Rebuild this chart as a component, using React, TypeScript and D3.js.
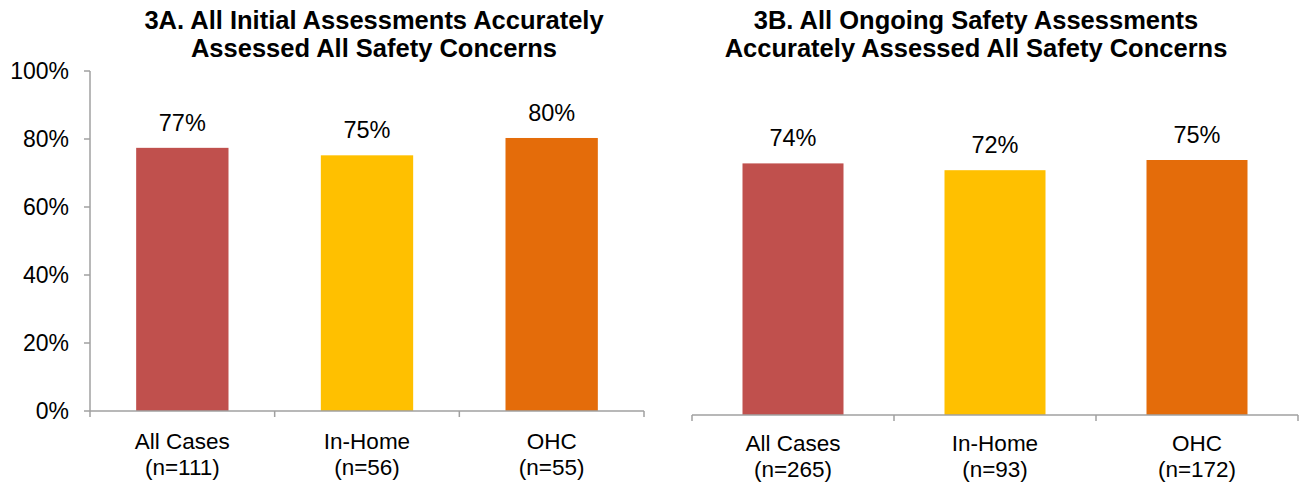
import React from "react";
import * as d3 from "d3";

const categories = ["All Cases", "In-Home", "OHC"];
const countsA = [111, 56, 55];
const valuesA = [0.774, 0.752, 0.803];
const countsB = [265, 93, 172];
const valuesB = [0.74, 0.72, 0.75];
const yTicks = [0, 0.2, 0.4, 0.6, 0.8, 1];
const barColors = ["#C0504D", "#FFC000", "#E46C0A"];
const titleA = ["3A. All Initial Assessments Accurately", "Assessed All Safety Concerns"];
const titleB = ["3B. All Ongoing Safety Assessments", "Accurately Assessed All Safety Concerns"];

const FONT = "'Liberation Sans', Arial, sans-serif";
const AXIS = "#A0A0A0";

type PanelProps = {
  x0: number; x1: number; yBase: number; yTop: number;
  values: number[]; counts: number[]; title: string[]; titleX: number;
  showY: boolean; catY: number;
};

function Panel({ x0, x1, yBase, yTop, values, counts, title, titleX, showY, catY }: PanelProps) {
  const x = d3.scaleBand<string>().domain(categories).range([x0, x1]).paddingInner(0.5).paddingOuter(0.25);
  const y = d3.scaleLinear().domain([0, 1]).range([yBase, yTop]);
  const step = x.step();
  const bounds = d3.range(categories.length + 1).map((i) => x0 + i * step);
  const fmt = d3.format(".0%");
  return (
    <g>
      {title.map((t, i) => (
        <text key={i} x={titleX} y={29 + i * 28} textAnchor="middle" fontFamily={FONT}
          fontWeight="bold" fontSize={25.5} fill="#000">{t}</text>
      ))}
      {values.map((v, i) => (
        <rect key={i} x={x(categories[i])} y={y(v)} width={x.bandwidth()} height={yBase - y(v)} fill={barColors[i]} />
      ))}
      {values.map((v, i) => (
        <text key={"l" + i} x={(x(categories[i]) as number) + x.bandwidth() / 2} y={y(v) - 17}
          textAnchor="middle" fontFamily={FONT} fontSize={23.5} fill="#000">{fmt(Math.round(v * 100) / 100)}</text>
      ))}
      <line x1={x0} x2={x1} y1={yBase} y2={yBase} stroke={AXIS} strokeWidth={1.5} />
      {bounds.map((b, i) => (
        <line key={"t" + i} x1={b} x2={b} y1={yBase} y2={yBase + 6} stroke={AXIS} strokeWidth={1.5} />
      ))}
      {showY && (
        <g>
          <line x1={x0} x2={x0} y1={yTop} y2={yBase} stroke={AXIS} strokeWidth={1.5} />
          {yTicks.map((t) => (
            <g key={t}>
              <line x1={x0 - 6} x2={x0} y1={y(t)} y2={y(t)} stroke={AXIS} strokeWidth={1.5} />
              <text x={x0 - 21} y={y(t) + 8} textAnchor="end" fontFamily={FONT} fontSize={23} fill="#000">{fmt(t)}</text>
            </g>
          ))}
        </g>
      )}
      {categories.map((c, i) => {
        const cx = (x(c) as number) + x.bandwidth() / 2;
        return (
          <g key={"c" + i}>
            <text x={cx} y={catY} textAnchor="middle" fontFamily={FONT} fontSize={22.5} fill="#000">{c}</text>
            <text x={cx} y={catY + 26} textAnchor="middle" fontFamily={FONT} fontSize={22.5} fill="#000">{`(n=${counts[i]})`}</text>
          </g>
        );
      })}
    </g>
  );
}

export default function App() {
  return (
    <svg width={1299} height={482} style={{ position: "absolute", left: 0, top: 0, background: "#fff" }}>
      <rect width={1299} height={482} fill="#fff" />
      <Panel x0={90} x1={644} yBase={411} yTop={71} values={valuesA} counts={countsA}
        title={titleA} titleX={374} showY={true} catY={449} />
      <Panel x0={692} x1={1298} yBase={415} yTop={75} values={valuesB} counts={countsB}
        title={titleB} titleX={976} showY={false} catY={451} />
    </svg>
  );
}
